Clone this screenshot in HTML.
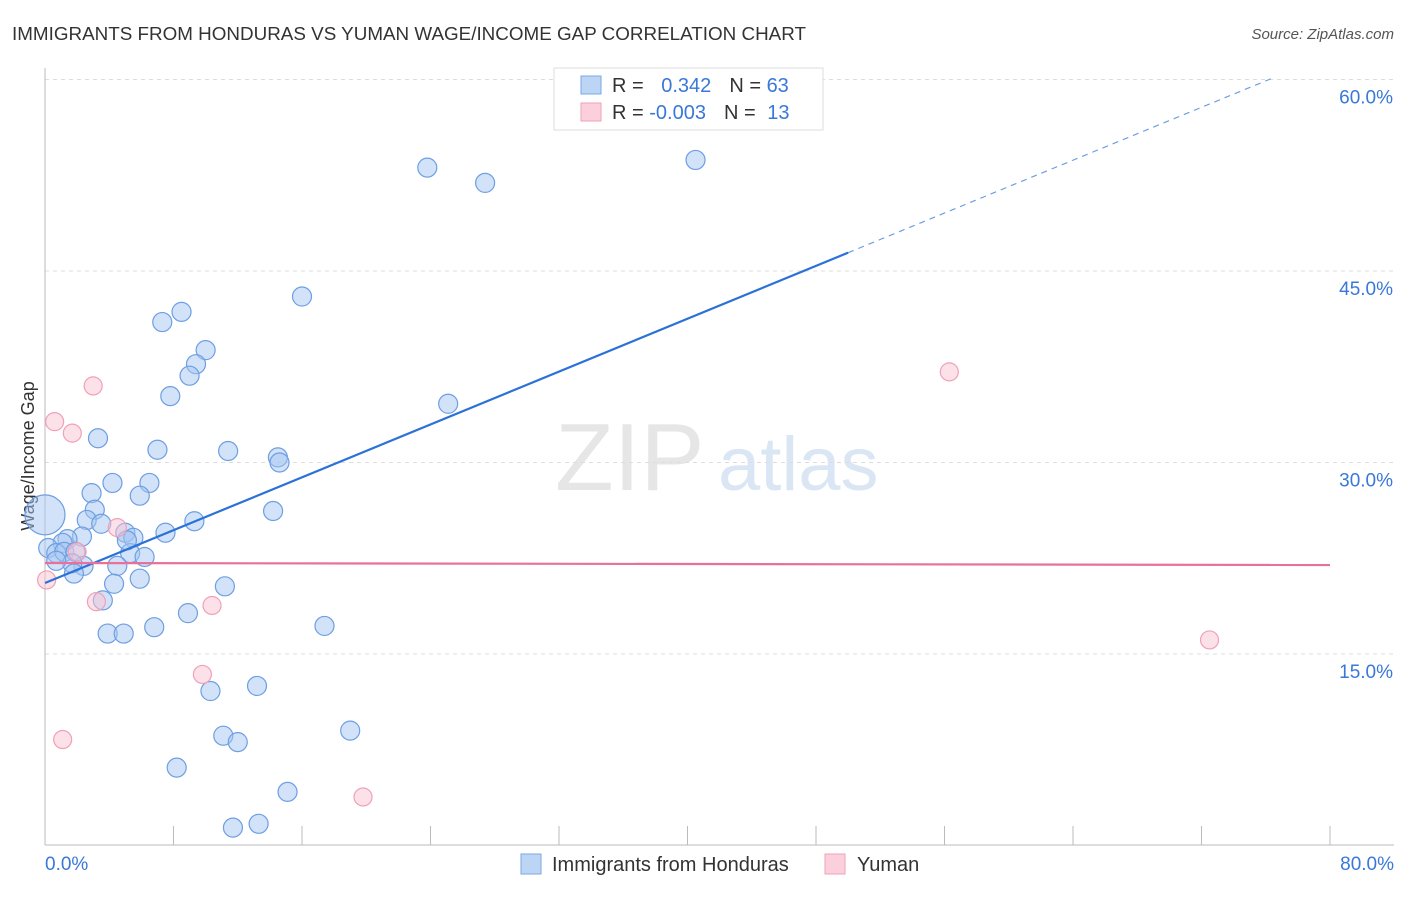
<!DOCTYPE html>
<html><head><meta charset="utf-8"><style>
body{margin:0;background:#fff;font-family:"Liberation Sans",sans-serif}
svg text{font-family:"Liberation Sans",sans-serif}
</style></head><body>
<svg id="c" width="1406" height="892" xmlns="http://www.w3.org/2000/svg">
<text x="12" y="40" font-size="18" fill="#333" textLength="794" lengthAdjust="spacingAndGlyphs">IMMIGRANTS FROM HONDURAS VS YUMAN WAGE/INCOME GAP CORRELATION CHART</text>
<text x="1394" y="39" font-size="15" fill="#555" font-style="italic" text-anchor="end">Source: ZipAtlas.com</text>
<text x="34" y="456" font-size="18" fill="#333" transform="rotate(-90 34 456)" text-anchor="middle">Wage/Income Gap</text>
<text x="555" y="490" font-size="96" fill="#e6e6e6" font-family="Liberation Serif">ZIP</text>
<text x="718" y="490" font-size="76" fill="#dbe6f5">atlas</text>
<g id="grid"></g><g id="pts"></g><g id="lines"></g>
<rect x="554" y="68" width="269" height="62" fill="#fff" stroke="#ddd"/>
<rect x="581" y="76" width="20" height="18" fill="#bcd5f5" stroke="#7aa8e6"/>
<rect x="581" y="103" width="20" height="18" fill="#fbd0dc" stroke="#f0a0b8"/>
<text x="612" y="92" font-size="20" fill="#333">R = <tspan fill="#3a78d8" dx="12">0.342</tspan><tspan dx="18">N = </tspan><tspan fill="#3a78d8">63</tspan></text>
<text x="612" y="119" font-size="20" fill="#333">R = <tspan fill="#3a78d8">-0.003</tspan><tspan dx="18">N = </tspan><tspan fill="#3a78d8" dx="6">13</tspan></text>
<rect x="521" y="854" width="20" height="20" fill="#bcd5f5" stroke="#7aa8e6"/>
<text x="552" y="871" font-size="20" fill="#333">Immigrants from Honduras</text>
<rect x="825" y="854" width="20" height="20" fill="#fbd0dc" stroke="#f0a0b8"/>
<text x="857" y="871" font-size="20" fill="#333">Yuman</text>
</svg>
<script>
const yTicks=[15,30,45,60];
const yTickLabels=["15.0%","30.0%","45.0%","60.0%"];
const xEndLabels=["0.0%","80.0%"];
const blueX=[40.5,23.8,27.4,16.0,8.5,7.3,10.0,9.4,9.0,7.8,25.1,3.3,7.0,11.4,14.5,14.6,4.2,6.5,2.9,5.9,3.1,14.2,2.6,3.5,9.3,7.5,5.0,2.3,5.5,1.4,1.1,0.2,0.7,1.2,1.9,5.3,6.2,4.5,2.4,1.7,1.8,5.9,4.3,11.2,3.6,8.9,3.9,4.9,6.8,17.4,13.2,10.3,19.0,11.1,12.0,8.2,15.1,13.3,11.7,0.7,5.1,0.0];
const blueY=[53.7,53.1,51.9,43.0,41.8,41.0,38.8,37.7,36.8,35.2,34.6,31.9,31.0,30.9,30.4,30.0,28.4,28.4,27.6,27.4,26.3,26.2,25.5,25.2,25.4,24.5,24.5,24.2,24.1,24.0,23.7,23.3,22.9,23.0,23.0,22.9,22.6,21.9,21.9,22.1,21.3,20.9,20.5,20.3,19.2,18.2,16.6,16.6,17.1,17.2,12.5,12.1,9.0,8.6,8.1,6.1,4.2,1.7,1.4,22.3,23.9,25.9];
const pinkX=[3.0,0.6,1.7,4.5,2.0,0.1,3.2,10.4,9.8,1.1,19.8,56.3,72.5];
const pinkY=[36.0,33.2,32.3,24.9,23.0,20.8,19.1,18.8,13.4,8.3,3.8,37.1,16.1];
const X=v=>45+v*1285/80, Y=v=>845.5-v*766/60;
const ns="http://www.w3.org/2000/svg";
function mk(p,t,a){const e=document.createElementNS(ns,t);for(const k in a)e.setAttribute(k,a[k]);p.appendChild(e);return e;}
const g=document.getElementById('grid');
yTicks.forEach((t,i)=>{
 const l=mk(g,'line',{x1:45,x2:1394,y1:Y(t),y2:Y(t),stroke:'#ddd','stroke-dasharray':'4,4'});
 
 
 const tx=mk(g,'text',{x:1393,y:Y(t)+24,'font-size':19,fill:'#3a78d8','text-anchor':'end'});tx.textContent=yTickLabels[i];
 
 
});
const ax=mk(g,'line',{x1:45,x2:45,y1:68,y2:845,stroke:'#bbb'});


const bx=mk(g,'line',{x1:45,x2:1394,y1:845,y2:845,stroke:'#bbb'});


for(let i=0;i<=10;i++){const t=mk(g,'line',{x1:X(i*8),x2:X(i*8),y1:826,y2:845,stroke:'#bbb'});
 
 }
[[0,'start',45],[80,'end',1394]].forEach((d,i)=>{const t=mk(g,'text',{x:d[2],y:870,'font-size':19,fill:'#3a78d8','text-anchor':d[1]});t.textContent=xEndLabels[i];
 
 });
const P=document.getElementById('pts');
blueX.forEach((x,i)=>{const r=i===blueX.length-1?20:9.5;
 const c=mk(P,'circle',{cx:X(x),cy:Y(blueY[i]),r:r,fill:'rgba(165,198,242,0.5)',stroke:'#6d9fe2','stroke-width':1.2});
 
 });
pinkX.forEach((x,i)=>{const c=mk(P,'circle',{cx:X(x),cy:Y(pinkY[i]),r:9,fill:'rgba(250,195,212,0.5)',stroke:'#f0a0b8','stroke-width':1.2});
 
 });
const L=document.getElementById('lines');
const bi=20.56,bs=0.5175;
const l1=mk(L,'line',{x1:X(0),y1:Y(bi),x2:X(50),y2:Y(bi+bs*50),stroke:'#2b72d8','stroke-width':2.2});


const l2=mk(L,'line',{x1:X(50),y1:Y(bi+bs*50),x2:X(76.6),y2:Y(bi+bs*76.6),stroke:'#6d9fe2','stroke-width':1.2,'stroke-dasharray':'6,5'});


const l3=mk(L,'line',{x1:X(0),y1:Y(22.13),x2:X(80),y2:Y(21.97),stroke:'#e8709a','stroke-width':2.2});


</script>
</body></html>
